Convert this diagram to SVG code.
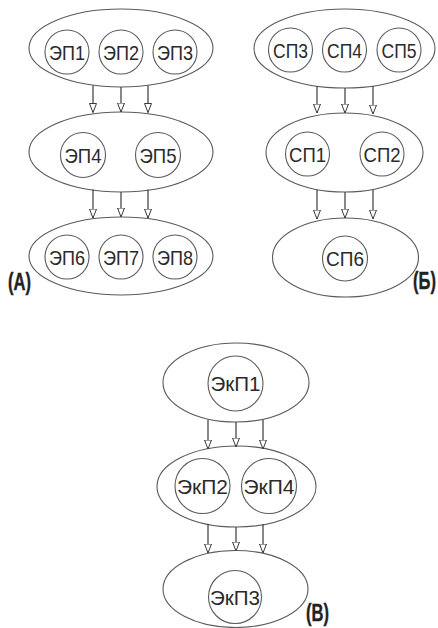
<svg xmlns="http://www.w3.org/2000/svg" width="438" height="628" viewBox="0 0 438 628">
<defs>
<style>
.grp{fill:none;stroke:#5a5a5a;stroke-width:1.1}
.nd{fill:none;stroke:#5a5a5a;stroke-width:1.1}
.t{font-family:"Liberation Sans",Arial,sans-serif;font-size:21px;fill:#2a2a2a;text-anchor:middle}
.lbl{font-family:"Liberation Sans",Arial,sans-serif;font-weight:bold;font-size:23px;fill:#222;stroke:#222;stroke-width:0.4}
.ar{stroke:#3a3a3a;stroke-width:1.2;fill:none;marker-end:url(#tri)}
</style>
<marker id="tri" viewBox="0 0 10 8" refX="9.5" refY="4" markerWidth="10" markerHeight="8" markerUnits="userSpaceOnUse" orient="auto">
<path d="M0.5,0.5 L9.5,4 L0.5,7.5 Z" fill="#fff" stroke="#3a3a3a" stroke-width="1"/>
</marker>
</defs>
<rect width="438" height="628" fill="#fff"/>

<!-- Panel A -->
<g id="A-top">
<ellipse class="grp" cx="121" cy="48" rx="92" ry="39"/>
<g id="EP1"><circle class="nd" cx="67" cy="52" r="22"/><text class="t" x="67" y="59.5" textLength="36" lengthAdjust="spacingAndGlyphs">ЭП1</text></g>
<g id="EP2"><circle class="nd" cx="121" cy="52" r="22"/><text class="t" x="121" y="59.5" textLength="36" lengthAdjust="spacingAndGlyphs">ЭП2</text></g>
<g id="EP3"><circle class="nd" cx="175" cy="52" r="22"/><text class="t" x="175" y="59.5" textLength="36" lengthAdjust="spacingAndGlyphs">ЭП3</text></g>
</g>
<g id="A-mid">
<ellipse class="grp" cx="121" cy="152" rx="92" ry="40"/>
<g id="EP4"><circle class="nd" cx="83" cy="155" r="22.5"/><text class="t" x="83" y="162.5" textLength="37" lengthAdjust="spacingAndGlyphs">ЭП4</text></g>
<g id="EP5"><circle class="nd" cx="158" cy="155" r="22.5"/><text class="t" x="158" y="162.5" textLength="37" lengthAdjust="spacingAndGlyphs">ЭП5</text></g>
</g>
<g id="A-bot">
<ellipse class="grp" cx="121" cy="256" rx="92" ry="39"/>
<g id="EP6"><circle class="nd" cx="67" cy="257" r="22"/><text class="t" x="67" y="264.5" textLength="36" lengthAdjust="spacingAndGlyphs">ЭП6</text></g>
<g id="EP7"><circle class="nd" cx="121" cy="257" r="22"/><text class="t" x="121" y="264.5" textLength="36" lengthAdjust="spacingAndGlyphs">ЭП7</text></g>
<g id="EP8"><circle class="nd" cx="175" cy="257" r="22"/><text class="t" x="175" y="264.5" textLength="36" lengthAdjust="spacingAndGlyphs">ЭП8</text></g>
</g>
<text class="lbl" transform="translate(8,290) scale(0.72,1)">(А)</text>

<!-- Panel B -->
<g id="B-top">
<ellipse class="grp" cx="344.5" cy="48.5" rx="90.5" ry="39.5"/>
<g id="SP3"><circle class="nd" cx="290.5" cy="50" r="22"/><text class="t" x="290.5" y="57.5" textLength="35" lengthAdjust="spacingAndGlyphs">СП3</text></g>
<g id="SP4"><circle class="nd" cx="344.5" cy="50" r="22"/><text class="t" x="344.5" y="57.5" textLength="35" lengthAdjust="spacingAndGlyphs">СП4</text></g>
<g id="SP5"><circle class="nd" cx="399" cy="50" r="22"/><text class="t" x="399" y="57.5" textLength="35" lengthAdjust="spacingAndGlyphs">СП5</text></g>
</g>
<g id="B-mid">
<ellipse class="grp" cx="344.5" cy="152.5" rx="78.5" ry="39.5"/>
<g id="SP1"><circle class="nd" cx="307.5" cy="154" r="22"/><text class="t" x="307.5" y="161.5" textLength="37" lengthAdjust="spacingAndGlyphs">СП1</text></g>
<g id="SP2"><circle class="nd" cx="382" cy="154" r="22"/><text class="t" x="382" y="161.5" textLength="37" lengthAdjust="spacingAndGlyphs">СП2</text></g>
</g>
<g id="B-bot">
<ellipse class="grp" cx="345.5" cy="257.5" rx="73" ry="39.5"/>
<g id="SP6"><circle class="nd" cx="345" cy="258.5" r="22.5"/><text class="t" x="345" y="266" textLength="38" lengthAdjust="spacingAndGlyphs">СП6</text></g>
</g>
<text class="lbl" text-anchor="end" transform="translate(436,289) scale(0.72,1)">(Б)</text>

<!-- Panel C -->
<g id="C-top">
<ellipse class="grp" cx="236" cy="382.5" rx="73" ry="39.5"/>
<g id="EkP1"><circle class="nd" cx="235.5" cy="383.5" r="27.5"/><text class="t" x="235.5" y="391" textLength="50" lengthAdjust="spacingAndGlyphs">ЭкП1</text></g>
</g>
<g id="C-mid">
<ellipse class="grp" cx="236.5" cy="486.5" rx="79.5" ry="40.5"/>
<g id="EkP2"><circle class="nd" cx="202.5" cy="486" r="27.5"/><text class="t" x="202.5" y="493.5" textLength="51" lengthAdjust="spacingAndGlyphs">ЭкП2</text></g>
<g id="EkP4"><circle class="nd" cx="269" cy="486" r="27.5"/><text class="t" x="269" y="493.5" textLength="51" lengthAdjust="spacingAndGlyphs">ЭкП4</text></g>
</g>
<g id="C-bot">
<ellipse class="grp" cx="235.5" cy="589" rx="72.5" ry="38.5"/>
<g id="EkP3"><circle class="nd" cx="235" cy="597" r="26.5"/><text class="t" x="235" y="604.5" textLength="50" lengthAdjust="spacingAndGlyphs">ЭкП3</text></g>
</g>
<text class="lbl" transform="translate(306,621) scale(0.72,1)">(В)</text>

<!-- Connectors -->
<g id="connectors">
<line class="ar" x1="93" y1="85.5" x2="93" y2="112.5"/>
<line class="ar" x1="121" y1="87" x2="121" y2="112"/>
<line class="ar" x1="148" y1="85.5" x2="148" y2="112.5"/>
<line class="ar" x1="93" y1="189.5" x2="93" y2="218"/>
<line class="ar" x1="121" y1="192" x2="121" y2="217"/>
<line class="ar" x1="148" y1="189.5" x2="148" y2="218"/>

<line class="ar" x1="317" y1="86" x2="317" y2="113"/>
<line class="ar" x1="345" y1="88" x2="345" y2="113"/>
<line class="ar" x1="373" y1="86" x2="373" y2="114"/>
<line class="ar" x1="317" y1="190" x2="317" y2="219"/>
<line class="ar" x1="345" y1="192" x2="345" y2="218"/>
<line class="ar" x1="373" y1="190" x2="373" y2="219"/>

<line class="ar" x1="208" y1="420" x2="208" y2="449"/>
<line class="ar" x1="236" y1="422" x2="236" y2="447"/>
<line class="ar" x1="263" y1="420" x2="263" y2="449"/>
<line class="ar" x1="208" y1="524" x2="208" y2="553"/>
<line class="ar" x1="236" y1="527" x2="236" y2="551"/>
<line class="ar" x1="263" y1="524" x2="263" y2="553"/>
</g>
</svg>
